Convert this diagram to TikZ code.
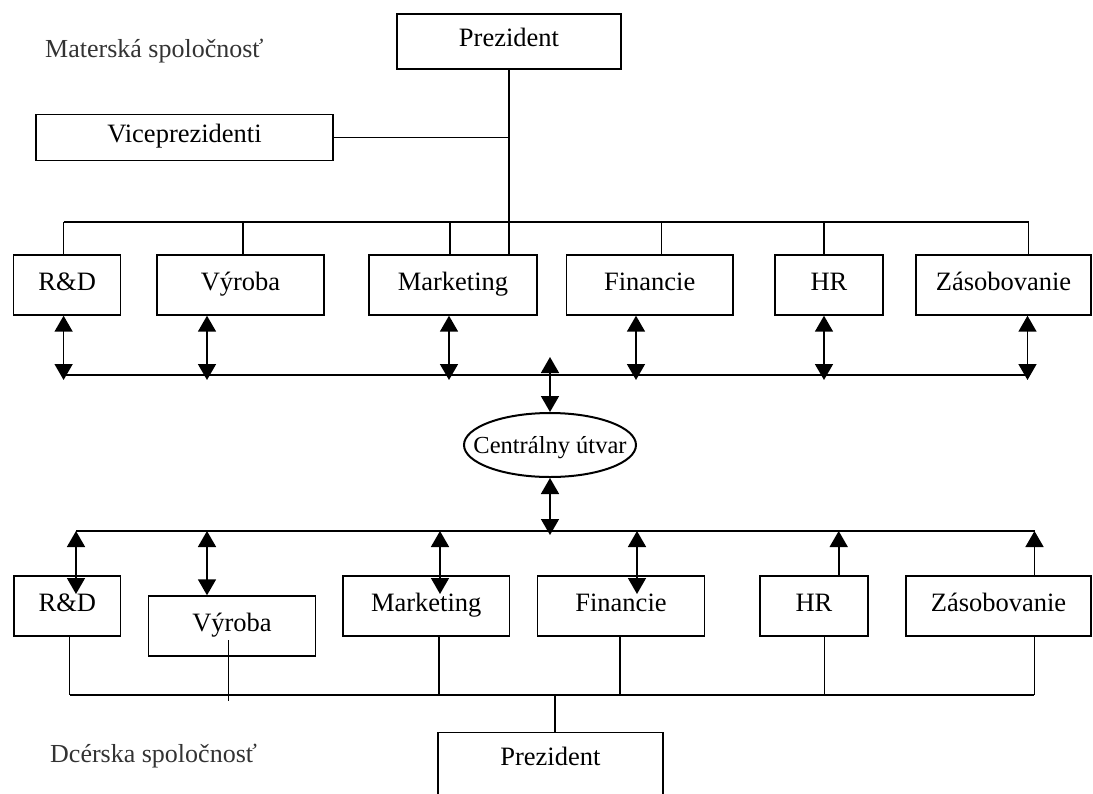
\documentclass[tikz,border=0pt]{standalone}
\usepackage{fontspec}
\setmainfont{Liberation Serif}
\usetikzlibrary{arrows.meta,shapes.geometric}
\begin{document}
\begin{tikzpicture}[x=1pt,y=-1pt,
  box/.style={draw, line width=1.4pt, inner sep=0pt, text height=19pt, text depth=9pt, font=\fontsize{26.5}{30}\selectfont},
  txt/.style={inner sep=0pt, font=\fontsize{26.5}{30}\selectfont},
  lbl/.style={inner sep=0pt, font=\fontsize{26}{30}\selectfont, text=black!80},
  ln/.style={line width=1.4pt},
  tip/.style={line width=1.6pt, -{Triangle[width=18pt,length=16pt]}},
  dbl/.style={line width=1.6pt, {Triangle[width=18pt,length=16pt]}-{Triangle[width=18pt,length=16pt]}}
]
\useasboundingbox (0,0) rectangle (1093,793);

% labels
\node[lbl, anchor=base west] (lblM) at (45,57.3) {Materská spoločnosť};
\node[lbl, anchor=base west] (lblD) at (50,762) {Dcérska spoločnosť};

% top part
\node[box, minimum width=224pt, minimum height=55pt] (tPres) at (509,41.5) {Prezident};
\node[box, minimum width=297pt, minimum height=46pt] (vice) at (184.5,137.5) {Viceprezidenti};

\node[box, minimum width=107pt, minimum height=60pt] (tRD) at (67.2,285) {R\&D};
\node[box, minimum width=167pt, minimum height=60pt] (tVy) at (240.5,285) {Výroba};
\node[box, minimum width=168pt, minimum height=60pt] (tMa) at (453,285) {Marketing};
\node[box, minimum width=166.5pt, minimum height=60pt] (tFi) at (649.7,285) {Financie};
\node[box, minimum width=108pt, minimum height=60pt] (tHR) at (829,285) {HR};
\node[box, minimum width=175pt, minimum height=60pt] (tZa) at (1003.5,285) {Zásobovanie};

\draw[ln] (tPres.south) -- (tPres.south |- tMa.north);
\draw[ln] (vice.east) -- (vice.east -| tPres.south);

\coordinate (u1) at (63.6,222);
\coordinate (u2) at (243,222);
\coordinate (u3) at (450,222);
\coordinate (u5) at (661.7,222);
\coordinate (u6) at (824,222);
\coordinate (u7) at (1028.5,222);
\draw[ln] (u1) -- (u7);
\draw[ln] (u1) -- (u1 |- tRD.north);
\draw[ln] (u2) -- (u2 |- tVy.north);
\draw[ln] (u3) -- (u3 |- tMa.north);
\draw[ln] (u5) -- (u5 |- tFi.north);
\draw[ln] (u6) -- (u6 |- tHR.north);
\draw[ln] (u7) -- (u7 |- tZa.north);

% upper bus with arrows
\coordinate (b2L) at (63.6,375);
\coordinate (b2R) at (1027.5,375);
\draw[ln] (b2L) -- (b2R);
\coordinate (m1) at (63.6,380);
\coordinate (m2) at (207,380);
\coordinate (m3) at (449,380);
\coordinate (m5) at (636,380);
\coordinate (m6) at (824,380);
\coordinate (m7) at (1027.5,380);
\draw[dbl] (m1 |- tRD.south) -- (m1);
\draw[dbl] (m2 |- tVy.south) -- (m2);
\draw[dbl] (m3 |- tMa.south) -- (m3);
\draw[dbl] (m5 |- tFi.south) -- (m5);
\draw[dbl] (m6 |- tHR.south) -- (m6);
\draw[dbl] (m7 |- tZa.south) -- (m7);

% central unit
\node[draw, ellipse, line width=2pt, minimum width=172pt, minimum height=64pt, inner sep=0pt] (ell) at (550,445) {};
\node[inner sep=0pt, anchor=base, font=\fontsize{24.5}{28}\selectfont] (ellT) at (550,453) {Centrálny útvar};
\coordinate (cU) at (550,357);
\coordinate (cD) at (550,535);
\draw[dbl] (cU) -- (ell.north);
\draw[dbl] (ell.south) -- (cD);

% bottom part
\node[box, minimum width=106.6pt, minimum height=60pt] (bRD) at (67.3,606) {R\&D};
\node[box, minimum width=167pt, minimum height=60pt] (bVy) at (232,626) {Výroba};
\node[box, minimum width=166.5pt, minimum height=60pt] (bMa) at (426.2,606) {Marketing};
\node[box, minimum width=167pt, minimum height=60pt] (bFi) at (621,606) {Financie};
\node[box, minimum width=108pt, minimum height=60pt] (bHR) at (814,606) {HR};
\node[box, minimum width=185pt, minimum height=60pt] (bZa) at (998.5,606) {Zásobovanie};

% lower bus with arrows
\coordinate (n1) at (76,531);
\coordinate (n2) at (207,531);
\coordinate (n3) at (440,531);
\coordinate (n5) at (637,531);
\coordinate (n6) at (838.7,531);
\coordinate (n7) at (1034.5,531);
\draw[ln] (n1) -- (n7);
\coordinate (e1) at (76,594);
\coordinate (e3) at (440,594);
\coordinate (e5) at (637,594);
\draw[dbl] (n1) -- (e1);
\draw[dbl] (n2) -- (n2 |- bVy.north);
\draw[dbl] (n3) -- (e3);
\draw[dbl] (n5) -- (e5);
\draw[tip] (n6 |- bHR.north) -- (n6);
\draw[tip] (n7 |- bZa.north) -- (n7);

% bottom president
\node[box, minimum width=225pt, minimum height=130pt, anchor=north] (bPres) at (550.35,731.7) {};
\node[txt, anchor=base] (bPresT) at (550.35,765) {Prezident};

\coordinate (q1) at (69.7,695);
\coordinate (q3) at (439,695);
\coordinate (q4) at (620,695);
\coordinate (q5) at (824.6,695);
\coordinate (q6) at (1034.4,695);
\coordinate (qT) at (555,695);
\coordinate (v1) at (228.6,640);
\coordinate (v2) at (228.6,701);
\draw[ln] (q1) -- (q6);
\draw[ln] (q1 |- bRD.south) -- (q1);
\draw[ln] (v1) -- (v2);
\draw[ln] (q3 |- bMa.south) -- (q3);
\draw[ln] (q4 |- bFi.south) -- (q4);
\draw[ln] (q5 |- bHR.south) -- (q5);
\draw[ln] (q6 |- bZa.south) -- (q6);
\draw[ln] (qT) -- (qT |- bPres.north);
\end{tikzpicture}
\end{document}
